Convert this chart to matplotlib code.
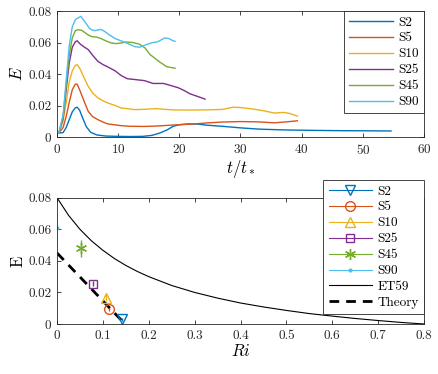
import matplotlib
matplotlib.use("Agg")
import matplotlib.pyplot as plt
from matplotlib.lines import Line2D

plt.rcParams["font.family"] = "serif"
plt.rcParams["font.serif"] = ["cmr10", "DejaVu Serif"]
plt.rcParams["mathtext.fontset"] = "cm"
plt.rcParams["axes.formatter.use_mathtext"] = True
plt.rcParams["font.size"] = 9.5

# MATLAB default colours
colors = ["#0072BD", "#D95319", "#EDB120", "#7E2F8E", "#77AC30", "#4DBEEE"]
names = ["S2", "S5", "S10", "S25", "S45", "S90"]

# top panel: entrainment vs time
t_s2 = [0.3, 1.0, 1.5, 2.0, 2.5, 3.0, 3.3, 3.7, 4.2, 4.8, 5.5, 6.5, 8, 10, 12, 14,
        15.5, 16.8, 18, 19, 20, 21.5, 23, 24.5, 27, 30, 33, 37, 42, 47, 52, 54.6]
e_s2 = [0.0025, 0.0028, 0.006, 0.011, 0.016, 0.0185, 0.0189, 0.017, 0.012, 0.0065,
        0.003, 0.0013, 0.0006, 0.0004, 0.0003, 0.0004, 0.001, 0.0025, 0.0045, 0.0068,
        0.0078, 0.0083, 0.0082, 0.0075, 0.0068, 0.0058, 0.005, 0.0045, 0.0042, 0.004,
        0.0039, 0.0038]

t_s5 = [0.3, 1.0, 1.5, 2.0, 2.5, 3.0, 3.3, 3.8, 4.5, 5.1, 5.8, 6.7, 7.5, 8.3, 9.5,
        10.5, 12, 14.3, 16.5, 19, 22, 24.4, 27, 30, 33, 35.5, 37.5, 39.3]
e_s5 = [0.0025, 0.006, 0.013, 0.022, 0.03, 0.0336, 0.0335, 0.029, 0.022, 0.0163,
        0.013, 0.011, 0.0095, 0.0083, 0.0077, 0.0072, 0.0068, 0.0067, 0.007, 0.0076,
        0.0082, 0.0089, 0.0095, 0.0098, 0.0096, 0.0090, 0.0096, 0.0103]

t_s10 = [0.3, 1.0, 1.5, 2.0, 2.5, 3.0, 3.3, 3.8, 4.5, 5.1, 5.8, 6.7, 7.5, 8.3, 9.5,
         10.5, 11.5, 12.7, 14.5, 16.3, 17.5, 19, 22, 24.4, 27, 28.8, 30, 32, 34,
         35.5, 37, 38, 39.3]
e_s10 = [0.0025, 0.01, 0.022, 0.035, 0.042, 0.0455, 0.0459, 0.043, 0.037, 0.0322,
         0.028, 0.0248, 0.023, 0.0216, 0.02, 0.0184, 0.018, 0.0174, 0.0176, 0.018,
         0.0176, 0.0172, 0.0171, 0.0172, 0.0175, 0.0189, 0.0187, 0.0178, 0.0165,
         0.0152, 0.0156, 0.015, 0.0133]

t_s25 = [0.3, 1.0, 1.5, 2.0, 2.5, 3.0, 3.3, 3.8, 4.5, 5.1, 5.8, 6.7, 7.5, 8.3, 9.5,
         10.5, 11.5, 12.7, 14.3, 15.7, 17.4, 18.5, 19.8, 20.8, 21.7, 22.8, 23.9, 24.2]
e_s25 = [0.0025, 0.012, 0.03, 0.047, 0.057, 0.0605, 0.0611, 0.059, 0.057, 0.0555,
         0.052, 0.048, 0.046, 0.0445, 0.042, 0.039, 0.037, 0.0365, 0.0358, 0.034,
         0.034, 0.0328, 0.0313, 0.0295, 0.0275, 0.026, 0.0245, 0.024]

t_s45 = [0.3, 1.0, 1.5, 2.0, 2.5, 3.0, 3.4, 4.0, 4.5, 5.0, 5.7, 6.4, 7.2, 8.0, 8.8,
         9.6, 10.5, 11.3, 12.4, 13.5, 14.4, 15.2, 16, 16.8, 17.9, 19.1, 19.3]
e_s45 = [0.0025, 0.013, 0.033, 0.052, 0.063, 0.0675, 0.0681, 0.0678, 0.0665, 0.065,
         0.0637, 0.0635, 0.0625, 0.061, 0.0598, 0.0593, 0.0597, 0.0603, 0.06, 0.0589,
         0.0565, 0.0524, 0.05, 0.0476, 0.0447, 0.0438, 0.0437]

t_s90 = [0.3, 1.0, 1.5, 2.0, 2.5, 3.0, 3.4, 3.9, 4.4, 4.9, 5.3, 5.7, 6.2, 6.7, 7.2,
         7.8, 8.5, 9.5, 10.5, 11.5, 12.7, 13.5, 14.5, 15.5, 16.5, 17.6, 18.3, 19, 19.3]
e_s90 = [0.0025, 0.014, 0.036, 0.058, 0.07, 0.0745, 0.0755, 0.0766, 0.074, 0.0713,
         0.069, 0.068, 0.0675, 0.068, 0.0683, 0.067, 0.065, 0.0625, 0.061, 0.0595,
         0.0574, 0.057, 0.0585, 0.0598, 0.0605, 0.0629, 0.0625, 0.061, 0.0608]

t_all = [t_s2, t_s5, t_s10, t_s25, t_s45, t_s90]
e_all = [e_s2, e_s5, e_s10, e_s25, e_s45, e_s90]

# bottom panel: mean entrainment vs Richardson number
ri_pts = [0.142, 0.114, 0.107, 0.078, 0.052, 0.001]
e_pts = [0.003, 0.0095, 0.0167, 0.0255, 0.048, 0.061]
e_err = [0.001, 0.001, 0.002, 0.0015, 0.0053, 0.001]
markers = ["v", "o", "^", "s", (6, 2, 0), "."]
msizes = [7, 7, 7, 5.5, 8, 4]

# Ellison & Turner 1959 curve
ri_et = [0, 0.025, 0.05, 0.075, 0.1, 0.125, 0.15, 0.175, 0.2, 0.25, 0.3, 0.35, 0.4,
         0.45, 0.5, 0.55, 0.6, 0.65, 0.7, 0.75, 0.8]
e_et = [0.08, 0.0689, 0.06, 0.0527, 0.0467, 0.0415, 0.0371, 0.0333, 0.03, 0.0244,
        0.02, 0.0164, 0.0133, 0.0108, 0.0086, 0.0066, 0.005, 0.0035, 0.0022, 0.001, 0.0]

ri_th = [0.0, 0.14]
e_th = [0.045, 0.0025]

W, H = 439, 374
fig = plt.figure(figsize=(W / 100, H / 100), dpi=100)


def style(ax):
    for s in ax.spines.values():
        s.set_linewidth(0.6)
        s.set_color("#262626")
    ax.tick_params(direction="in", top=True, right=True, length=3, width=0.6,
                   colors="#262626", labelsize=9.5, pad=4)


ax1 = fig.add_axes([57 / W, 1 - 137 / H, 367 / W, 126 / H])
for t, e, c, n in zip(t_all, e_all, colors, names):
    ax1.plot(t, e, color=c, lw=1.0, label=n)
ax1.set_xlim(0, 60)
ax1.set_ylim(0, 0.08)
ax1.set_xticks([0, 10, 20, 30, 40, 50, 60])
ax1.set_yticks([0, 0.02, 0.04, 0.06, 0.08])
ax1.set_yticklabels(["0", "0.02", "0.04", "0.06", "0.08"])
ax1.set_xlabel(r"$t/t_*$", fontsize=12, labelpad=1)
ax1.set_ylabel(r"$E$", fontsize=12, labelpad=2)
style(ax1)
leg1 = ax1.legend(loc="upper right", borderaxespad=0, fancybox=False, framealpha=1,
                  edgecolor="#262626", handlelength=3.3, labelspacing=0.28,
                  handletextpad=0.4, borderpad=0.4, fontsize=9.5)
leg1.get_frame().set_linewidth(0.6)

ax2 = fig.add_axes([57 / W, 1 - 324 / H, 367 / W, 126.3 / H])
handles = []
for r, e, er, c, m, ms, n in zip(ri_pts, e_pts, e_err, colors, markers, msizes, names):
    ax2.errorbar([r], [e], yerr=[er], color=c, marker=m, mfc="none", ms=ms,
                 mew=1.0, capsize=0, elinewidth=1.0, ls="none")
    handles.append(Line2D([], [], color=c, marker=m, mfc="none", ms=ms, mew=1.0,
                          lw=0.8, label=n))
et_line, = ax2.plot(ri_et, e_et, color="black", lw=0.8, label="ET59")
th_line, = ax2.plot(ri_th, e_th, color="black", lw=2.0, ls=(0, (3.5, 2.5)),
                    label="Theory")
handles += [et_line, th_line]
ax2.set_xlim(0, 0.8)
ax2.set_ylim(0, 0.08)
ax2.set_xticks([0, 0.1, 0.2, 0.3, 0.4, 0.5, 0.6, 0.7, 0.8])
ax2.set_xticklabels(["0", "0.1", "0.2", "0.3", "0.4", "0.5", "0.6", "0.7", "0.8"])
ax2.set_yticks([0, 0.02, 0.04, 0.06, 0.08])
ax2.set_yticklabels(["0", "0.02", "0.04", "0.06", "0.08"])
ax2.set_xlabel(r"$Ri$", fontsize=12, labelpad=1)
ax2.set_ylabel("E", fontsize=12, labelpad=2)
style(ax2)
leg2 = fig.legend(handles=handles, loc="upper right",
                  bbox_to_anchor=(424 / W, 1 - 180 / H), borderaxespad=0,
                  fancybox=False, framealpha=1, edgecolor="#262626",
                  handlelength=3.3, labelspacing=0.28, handletextpad=0.4,
                  borderpad=0.4, fontsize=9.5)
leg2.get_frame().set_linewidth(0.6)

fig.savefig("out.png", dpi=100)
